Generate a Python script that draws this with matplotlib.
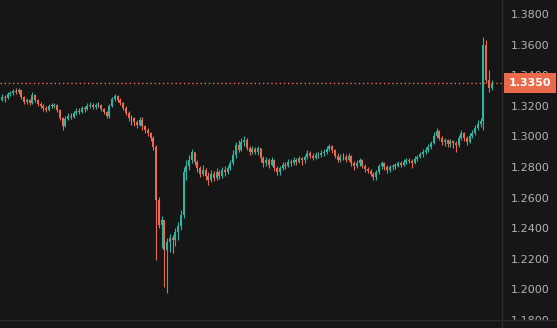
import matplotlib
matplotlib.use("Agg")
import matplotlib.pyplot as plt
from matplotlib.lines import Line2D
from matplotlib.patches import Rectangle
import numpy as np

# price data
first_open = 1.3238
closes = [
    1.3258, 1.3251, 1.3277, 1.3284, 1.3297, 1.3290, 1.3303, 1.3258, 1.3225, 1.3238,
    1.3218, 1.3271, 1.3238, 1.3212, 1.3199, 1.3186, 1.3173, 1.3199, 1.3199, 1.3205,
    1.3173, 1.3120, 1.3068, 1.3114, 1.3133, 1.3127, 1.3153, 1.3166, 1.3160, 1.3186,
    1.3179, 1.3199, 1.3205, 1.3192, 1.3205, 1.3205, 1.3179, 1.3160, 1.3133, 1.3199,
    1.3245, 1.3264, 1.3238, 1.3218, 1.3186, 1.3153, 1.3120, 1.3120, 1.3094, 1.3075,
    1.3107, 1.3068, 1.3042, 1.3022, 1.2990, 1.2931, 1.2584, 1.2421, 1.2454, 1.2258,
    1.2310, 1.2336, 1.2323, 1.2375, 1.2415, 1.2486, 1.2767, 1.2807, 1.2846, 1.2898,
    1.2833, 1.2793, 1.2754, 1.2780, 1.2741, 1.2715, 1.2754, 1.2728, 1.2767, 1.2741,
    1.2780, 1.2767, 1.2793, 1.2826, 1.2878, 1.2944, 1.2911, 1.2963, 1.2976, 1.2924,
    1.2898, 1.2918, 1.2898, 1.2924, 1.2859, 1.2826, 1.2846, 1.2813, 1.2846, 1.2793,
    1.2767, 1.2793, 1.2813, 1.2807, 1.2833, 1.2826, 1.2846, 1.2833, 1.2859, 1.2846,
    1.2865, 1.2891, 1.2872, 1.2859, 1.2878, 1.2878, 1.2891, 1.2898, 1.2918, 1.2937,
    1.2911, 1.2872, 1.2846, 1.2865, 1.2865, 1.2846, 1.2872, 1.2826, 1.2807, 1.2826,
    1.2846, 1.2807, 1.2787, 1.2774, 1.2754, 1.2735, 1.2767, 1.2807, 1.2826, 1.2800,
    1.2780, 1.2800, 1.2807, 1.2807, 1.2826, 1.2813, 1.2833, 1.2846, 1.2839, 1.2826,
    1.2852, 1.2865, 1.2885, 1.2898, 1.2911, 1.2931, 1.2957, 1.3003, 1.3035, 1.2990,
    1.2963, 1.2976, 1.2950, 1.2970, 1.2957, 1.2944, 1.2990, 1.3022, 1.2990, 1.2963,
    1.3003, 1.3022, 1.3055, 1.3081, 1.3101, 1.3597, 1.3369, 1.3316, 1.3350,
]
highs = [
    1.3277, 1.3271, 1.3290, 1.3297, 1.3310, 1.3316, 1.3316, 1.3303, 1.3264, 1.3251,
    1.3245, 1.3290, 1.3277, 1.3245, 1.3225, 1.3212, 1.3199, 1.3212, 1.3218, 1.3218,
    1.3212, 1.3179, 1.3127, 1.3133, 1.3153, 1.3153, 1.3166, 1.3186, 1.3186, 1.3199,
    1.3199, 1.3218, 1.3225, 1.3218, 1.3218, 1.3225, 1.3212, 1.3186, 1.3166, 1.3212,
    1.3258, 1.3277, 1.3271, 1.3251, 1.3225, 1.3199, 1.3166, 1.3140, 1.3127, 1.3107,
    1.3127, 1.3127, 1.3075, 1.3055, 1.3029, 1.3003, 1.2944, 1.2604, 1.2480, 1.2454,
    1.2336, 1.2362, 1.2356, 1.2401, 1.2441, 1.2519, 1.2800, 1.2846, 1.2878, 1.2918,
    1.2898, 1.2846, 1.2807, 1.2813, 1.2793, 1.2767, 1.2780, 1.2774, 1.2793, 1.2780,
    1.2800, 1.2807, 1.2813, 1.2846, 1.2911, 1.2963, 1.2976, 1.2990, 1.3003, 1.2990,
    1.2937, 1.2937, 1.2931, 1.2937, 1.2924, 1.2872, 1.2865, 1.2859, 1.2865, 1.2852,
    1.2807, 1.2807, 1.2833, 1.2833, 1.2852, 1.2852, 1.2865, 1.2859, 1.2872, 1.2865,
    1.2878, 1.2911, 1.2905, 1.2891, 1.2898, 1.2898, 1.2911, 1.2918, 1.2937, 1.2950,
    1.2944, 1.2918, 1.2891, 1.2885, 1.2891, 1.2885, 1.2891, 1.2878, 1.2839, 1.2846,
    1.2859, 1.2852, 1.2820, 1.2800, 1.2787, 1.2767, 1.2780, 1.2820, 1.2839, 1.2833,
    1.2813, 1.2813, 1.2820, 1.2826, 1.2839, 1.2839, 1.2852, 1.2859, 1.2859, 1.2852,
    1.2872, 1.2878, 1.2898, 1.2918, 1.2931, 1.2950, 1.2970, 1.3029, 1.3055, 1.3042,
    1.3003, 1.2990, 1.2983, 1.2983, 1.2976, 1.2970, 1.3009, 1.3042, 1.3029, 1.3003,
    1.3022, 1.3042, 1.3075, 1.3107, 1.3120, 1.3650, 1.3630, 1.3434, 1.3369,
]
lows = [
    1.3231, 1.3225, 1.3245, 1.3264, 1.3271, 1.3277, 1.3277, 1.3245, 1.3212, 1.3212,
    1.3205, 1.3212, 1.3225, 1.3199, 1.3186, 1.3166, 1.3160, 1.3166, 1.3186, 1.3186,
    1.3160, 1.3107, 1.3042, 1.3061, 1.3107, 1.3114, 1.3120, 1.3140, 1.3146, 1.3153,
    1.3160, 1.3173, 1.3186, 1.3179, 1.3179, 1.3192, 1.3166, 1.3146, 1.3120, 1.3120,
    1.3192, 1.3231, 1.3225, 1.3205, 1.3173, 1.3140, 1.3101, 1.3075, 1.3068, 1.3055,
    1.3068, 1.3042, 1.3022, 1.3003, 1.2970, 1.2911, 1.2192, 1.2401, 1.2271, 1.2016,
    1.1977, 1.2244, 1.2238, 1.2284, 1.2323, 1.2388, 1.2467, 1.2715, 1.2780, 1.2826,
    1.2813, 1.2767, 1.2735, 1.2741, 1.2715, 1.2682, 1.2702, 1.2708, 1.2715, 1.2722,
    1.2728, 1.2741, 1.2754, 1.2780, 1.2813, 1.2859, 1.2898, 1.2905, 1.2937, 1.2911,
    1.2878, 1.2885, 1.2885, 1.2878, 1.2833, 1.2800, 1.2807, 1.2793, 1.2807, 1.2774,
    1.2748, 1.2748, 1.2780, 1.2787, 1.2800, 1.2807, 1.2813, 1.2813, 1.2826, 1.2813,
    1.2826, 1.2852, 1.2859, 1.2846, 1.2852, 1.2859, 1.2865, 1.2872, 1.2885, 1.2905,
    1.2891, 1.2859, 1.2833, 1.2833, 1.2846, 1.2833, 1.2839, 1.2807, 1.2780, 1.2793,
    1.2807, 1.2793, 1.2767, 1.2761, 1.2741, 1.2715, 1.2715, 1.2754, 1.2787, 1.2780,
    1.2761, 1.2767, 1.2780, 1.2787, 1.2800, 1.2800, 1.2807, 1.2820, 1.2826, 1.2793,
    1.2820, 1.2839, 1.2859, 1.2865, 1.2885, 1.2898, 1.2918, 1.2950, 1.2990, 1.2976,
    1.2944, 1.2937, 1.2931, 1.2931, 1.2924, 1.2898, 1.2931, 1.2976, 1.2970, 1.2944,
    1.2957, 1.2990, 1.3009, 1.3042, 1.3061, 1.3042, 1.3349, 1.3290, 1.3303,
]
last_price = 1.3350
y_ticks = [1.18, 1.20, 1.22, 1.24, 1.26, 1.28, 1.30, 1.32, 1.34, 1.36, 1.38]

BG = "#161616"
UP = "#2bb5a0"
DOWN = "#ec6a4c"
FLAT = "#9a9a9a"
LINE = "#2c2c2c"

closes = np.array(closes)
opens = np.concatenate([[first_open], closes[:-1]])
highs = np.maximum(np.array(highs), np.maximum(opens, closes))
lows = np.minimum(np.array(lows), np.minimum(opens, closes))
idx = np.arange(len(closes))

colors = []
for o, c in zip(opens, closes):
    if c > o:
        colors.append(UP)
    elif c < o:
        colors.append(DOWN)
    else:
        colors.append(FLAT)

W, H = 557, 328
fig = plt.figure(figsize=(W / 100, H / 100), dpi=100, facecolor=BG)
ax = fig.add_axes([0, 8 / H, 502 / W, 320 / H])
ax.set_facecolor(BG)

ax.vlines(idx, lows, highs, colors=colors, linewidth=0.8)
body_lo = np.minimum(opens, closes)
body_h = np.maximum(np.abs(closes - opens), 0.0003)
ax.bar(idx, body_h, bottom=body_lo, width=0.7, color=colors, linewidth=0)

# last price line + tag
ax.axhline(last_price, color=DOWN, linewidth=1.0, dashes=(1, 2))
ax.annotate(f"{last_price:.4f}", xy=(1.0, last_price),
            xycoords=("axes fraction", "data"), xytext=(5, 0),
            textcoords="offset points", ha="left", va="center",
            color="white", fontsize=8, fontweight="bold",
            bbox=dict(boxstyle="square,pad=0.42", fc=DOWN, ec="none"),
            annotation_clip=False, zorder=10)

ax.set_xlim(-0.73, 181.8)
ax.set_ylim(1.18, 1.38915)
ax.yaxis.tick_right()
ax.set_yticks(y_ticks)
ax.set_yticklabels([f"{t:.4f}" for t in y_ticks])
ax.tick_params(axis="y", length=0, pad=6, labelsize=8, labelcolor="#b4b4b4")
ax.set_xticks([])
for side in ["top", "left", "bottom"]:
    ax.spines[side].set_visible(False)
ax.spines["right"].set_color(LINE)
ax.spines["right"].set_linewidth(1)

# time-axis strip at the bottom covers the lowest label
fig.add_artist(Rectangle((0, 0), 1, 8 / H, transform=fig.transFigure,
                         facecolor=BG, edgecolor="none", zorder=20))
fig.add_artist(Line2D([0, 1], [8 / H, 8 / H], transform=fig.transFigure,
                      color=LINE, linewidth=1, zorder=21))
fig.add_artist(Line2D([502 / W, 502 / W], [0, 8 / H], transform=fig.transFigure,
                      color=LINE, linewidth=1, zorder=21))

fig.savefig("out.png", dpi=100, facecolor=BG)
